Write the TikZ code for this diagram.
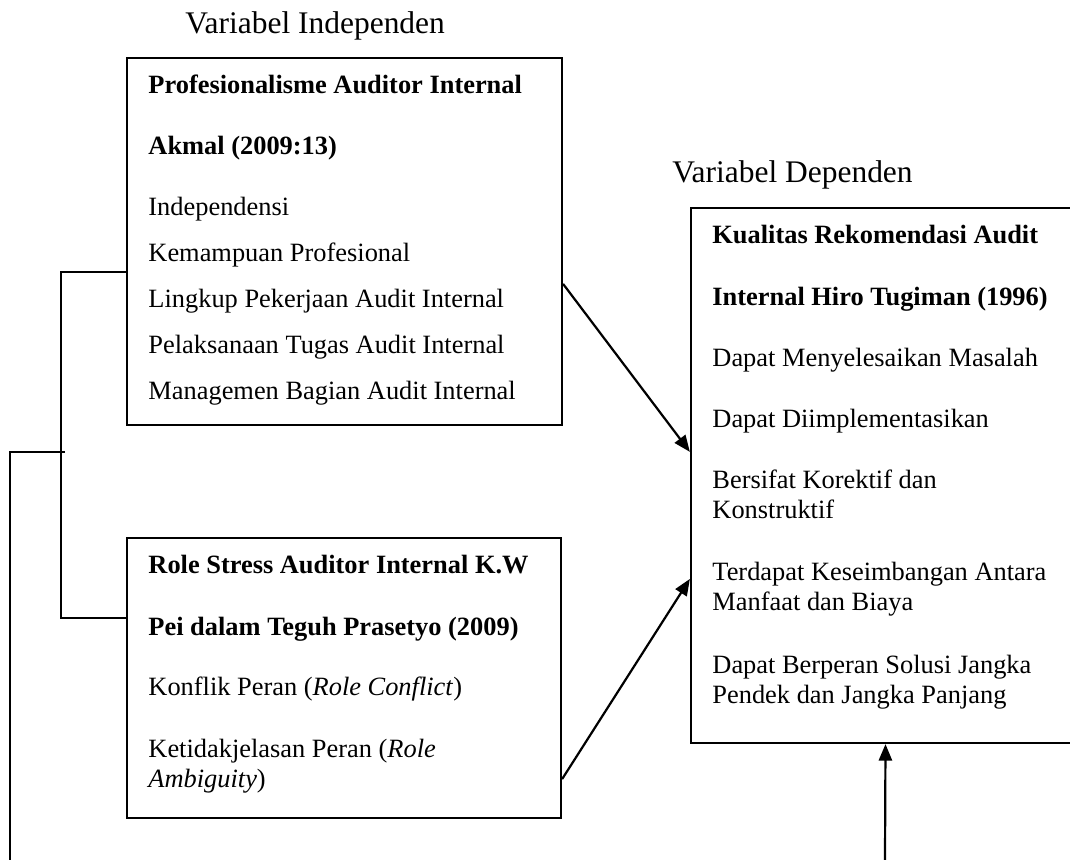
\documentclass[tikz,border=0pt]{standalone}
\usepackage{fontspec}
\setmainfont{Liberation Serif}
\usepackage{tikz}
\usetikzlibrary{arrows.meta, positioning, fit, calc}
\tikzstyle{kotak} = [draw, line width=1pt, inner sep=0pt]
\tikzstyle{panah} = [-{Triangle[length=7.5pt,width=6pt]}, line width=1pt]
\tikzstyle{garis} = [line width=1pt]
\tikzstyle{teks} = [anchor=base west, inner sep=0pt, font=\fontsize{12}{14}\selectfont]
\tikzstyle{judul} = [anchor=base west, inner sep=0pt, font=\fontsize{14.3}{17}\selectfont]

\begin{document}
\begin{tikzpicture}[x=0.4545pt, y=-0.4545pt]
	\useasboundingbox (0,0) rectangle (1070,860);

	\node[judul] (lblI) at (185,33) {Variabel Independen};
	\node[judul] (lblD) at (672,182) {Variabel Dependen};

	% kotak variabel independen
	\node[kotak, fit={(127,58) (562,425)}] (P) {};
	\node[teks] (p1) at (148,93) {\textbf{Profesionalisme Auditor Internal}};
	\node[teks] (p2) at (148,154) {\textbf{Akmal (2009:13)}};
	\node[teks] (p3) at (148,215) {Independensi};
	\node[teks] (p4) at (148,261) {Kemampuan Profesional};
	\node[teks] (p5) at (148,307) {Lingkup Pekerjaan Audit Internal};
	\node[teks] (p6) at (148,353) {Pelaksanaan Tugas Audit Internal};
	\node[teks] (p7) at (148,399) {Managemen Bagian Audit Internal};

	\node[kotak, fit={(127,538) (561,818)}] (R) {};
	\node[teks] (r1) at (148,573) {\textbf{Role Stress Auditor Internal K.W}};
	\node[teks] (r2) at (148,635) {\textbf{Pei dalam Teguh Prasetyo (2009)}};
	\node[teks] (r3) at (148,695) {Konflik Peran (\textit{Role Conflict})};
	\node[teks] (r4) at (148,757) {Ketidakjelasan Peran (\textit{Role}};
	\node[teks] (r5) at (148,787) {\textit{Ambiguity})};

	% kotak variabel dependen
	\node[kotak, fit={(691,208) (1080,743)}] (K) {};
	\node[teks] (k1) at (712,243) {\textbf{Kualitas Rekomendasi Audit}};
	\node[teks] (k2) at (712,305) {\textbf{Internal Hiro Tugiman (1996)}};
	\node[teks] (k3) at (712,366) {Dapat Menyelesaikan Masalah};
	\node[teks] (k4) at (712,427) {Dapat Diimplementasikan};
	\node[teks] (k5) at (712,488) {Bersifat Korektif dan};
	\node[teks] (k6) at (712,518) {Konstruktif};
	\node[teks] (k7) at (712,580) {Terdapat Keseimbangan Antara};
	\node[teks] (k8) at (712,610) {Manfaat dan Biaya};
	\node[teks] (k9) at (712,673) {Dapat Berperan Solusi Jangka};
	\node[teks] (k10) at (712,703) {Pendek dan Jangka Panjang};

	\draw[panah] ($(P.north east)+(0,227)$) -- ($(K.north west)+(0,245)$);
	\draw[panah] ($(R.south east)+(0,-40)$) -- ($(K.north west)+(0,372)$);

	\coordinate (bawah) at (885,860);
	\draw[panah] (bawah) -- (K.south);

	% garis kurung kiri
	\coordinate (kurung) at (61,452);
	\coordinate (bawahkiri) at (10,860);
	\draw[garis] ($(P.north west)+(0,215)$) -| (kurung) |- ($(R.north west)+(0,81)$);
	\draw[garis] ($(kurung)+(4,0)$) -| (bawahkiri);

\end{tikzpicture}
\end{document}
